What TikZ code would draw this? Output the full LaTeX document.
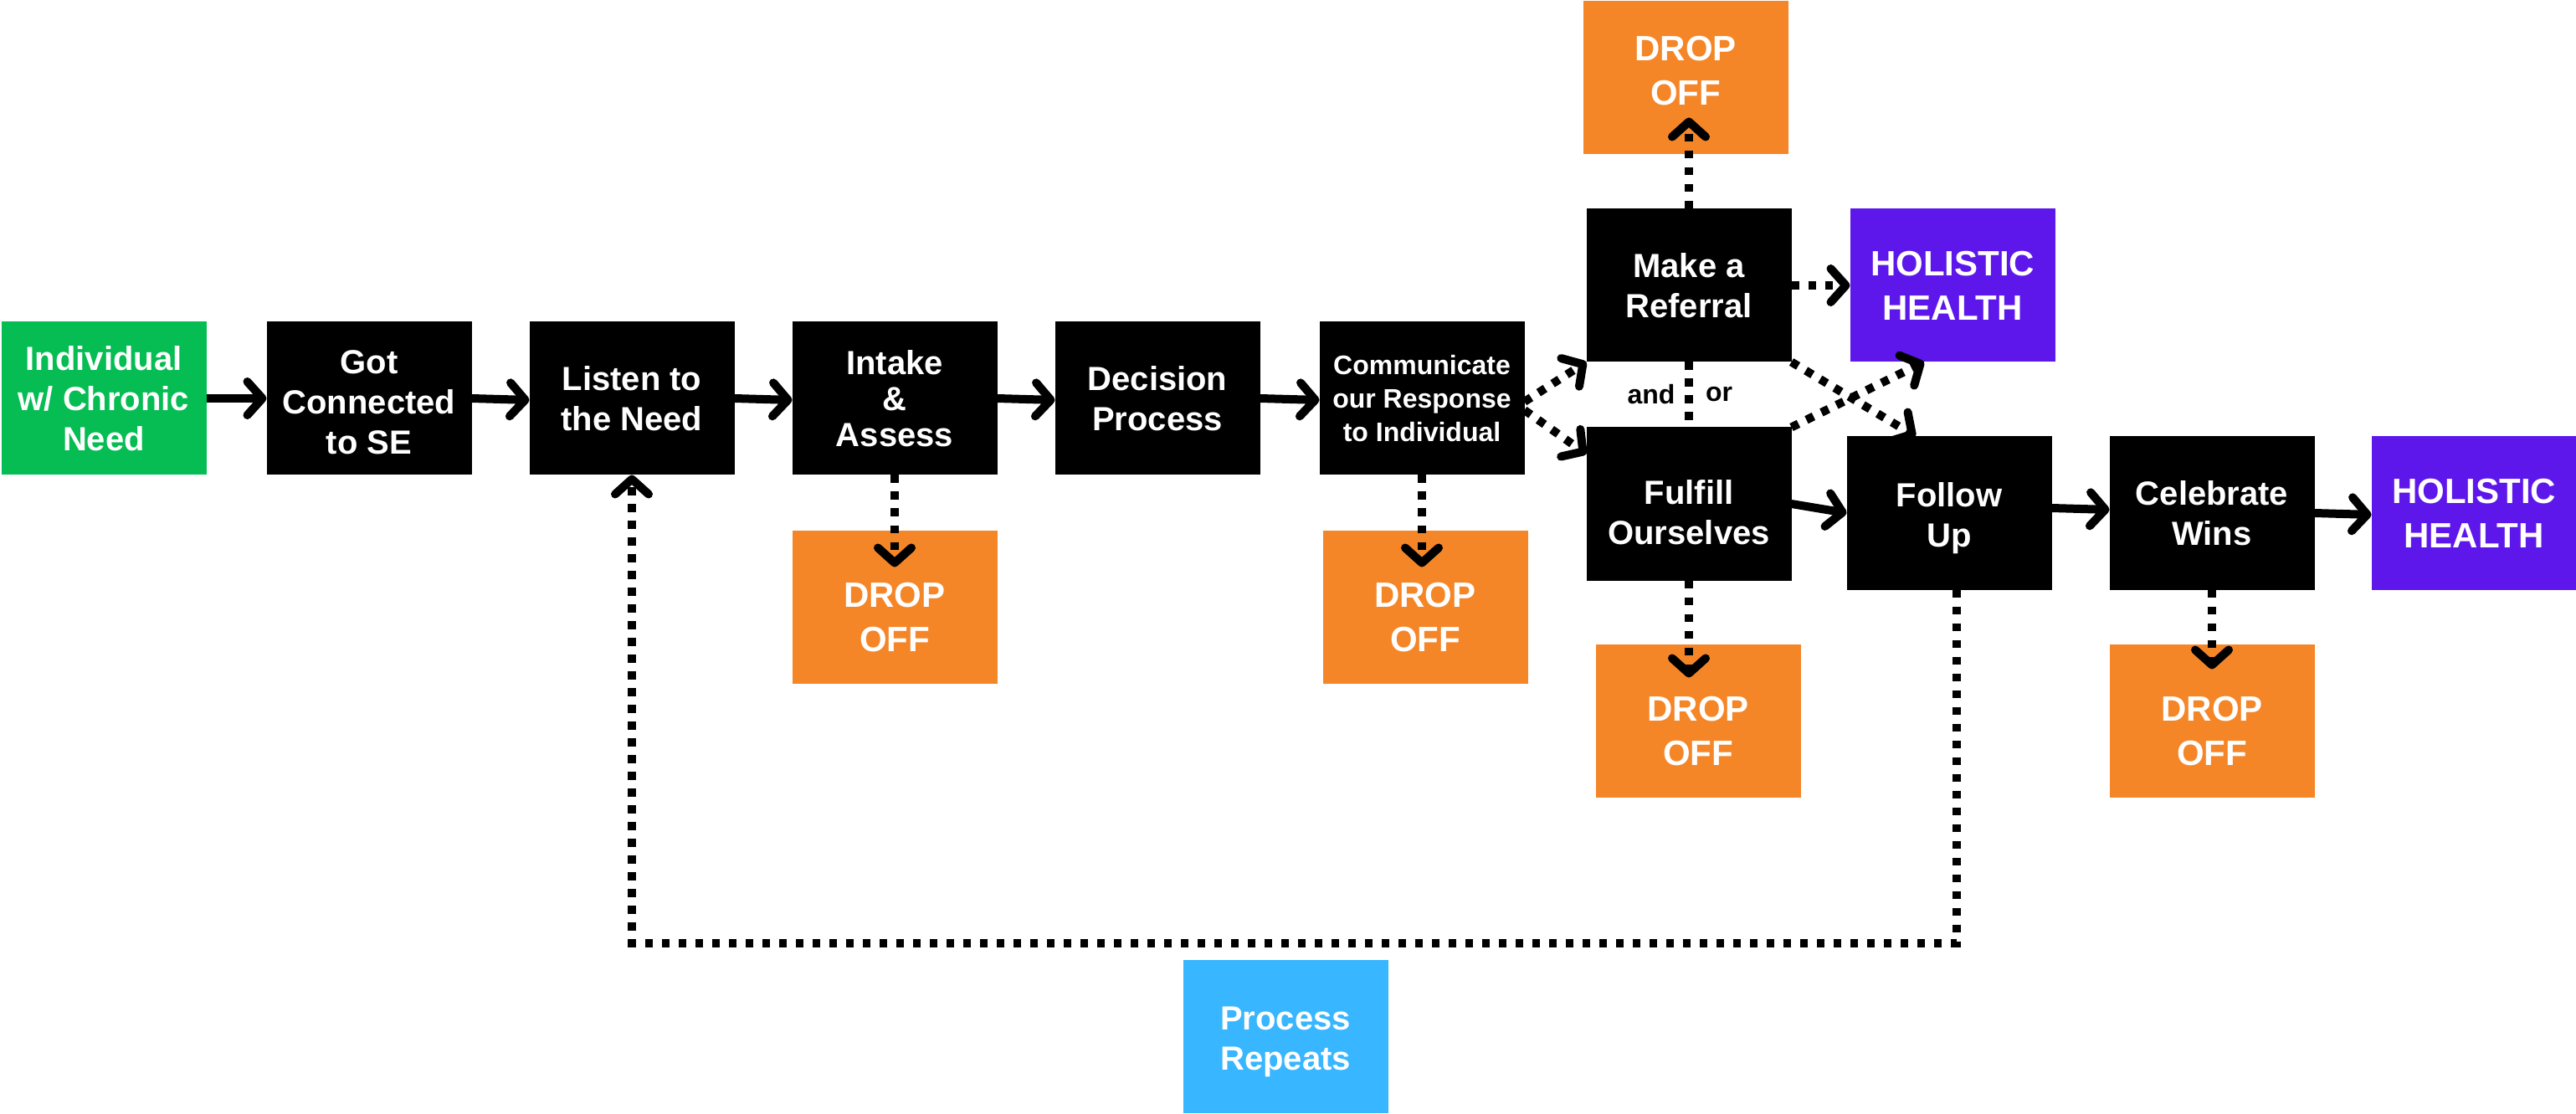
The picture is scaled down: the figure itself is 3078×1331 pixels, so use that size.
\documentclass[tikz,border=0pt]{standalone}
\usepackage{fontspec}
\setmainfont{Liberation Sans}
\usetikzlibrary{arrows.meta}

\definecolor{needgreen}{HTML}{05BD53}
\definecolor{droporange}{HTML}{F58628}
\definecolor{healthpurple}{HTML}{5E17EB}
\definecolor{repeatblue}{HTML}{38B6FF}

\begin{document}
\begin{tikzpicture}[x=0.5pt, y=-0.5pt,
	stepbox/.style={fill=black, text=white, font=\bfseries\fontsize{20}{24}\selectfont,
		align=center, minimum width=122.5pt, minimum height=91.5pt, inner sep=0pt, outer sep=0pt},
	dropbox/.style={stepbox, fill=droporange, font=\bfseries\fontsize{21}{26.5}\selectfont},
	healthbox/.style={stepbox, fill=healthpurple, font=\bfseries\fontsize{21}{26.5}\selectfont},
	smalltext/.style={font=\bfseries\fontsize{16}{20}\selectfont},
	textdown/.style={execute at begin node={\rule{0pt}{#1}}},
	textup/.style={execute at end node={\rule[-#1]{0pt}{0pt}}},
	solidflow/.style={line width=5pt, -{Straight Barb[length=9pt, width=20pt, line cap=round, line join=round]}},
	dotline/.style={line width=5pt, dash pattern=on 4.7pt off 5.3pt},
	dotflow/.style={dotline, -{Straight Barb[length=9pt, width=20pt, line cap=round, line join=round]}}]
	\useasboundingbox (0,0) rectangle (3078,1331);

	\node [stepbox, fill=needgreen] (need) at (124,476) {Individual\\w/ Chronic\\Need};
	\node [stepbox, textdown=66.5pt] (got) at (441,476) {Got\\Connected\\to SE};
	\node [stepbox] (listen) at (755,476) {Listen to\\the Need};
	\node [stepbox, font=\bfseries\fontsize{20}{21.5}\selectfont] (intake) at (1069,476) {Intake\\\&\\Assess};
	\node [stepbox] (decide) at (1383,476) {Decision\\Process};
	\node [stepbox, smalltext] (talk) at (1699,476) {Communicate\\our Response\\to Individual};
	\node [stepbox] (refer) at (2018,341) {Make a\\Referral};
	\node [stepbox, textdown=48.5pt] (fulfill) at (2018,602) {Fulfill\\Ourselves};
	\node [stepbox, textdown=44.5pt] (follow) at (2329,613) {Follow\\Up};
	\node [stepbox] (celebrate) at (2643,613) {Celebrate\\Wins};
	\node [healthbox] (healthA) at (2333,341) {HOLISTIC\\HEALTH};
	\node [healthbox] (healthB) at (2956,613) {HOLISTIC\\HEALTH};

	\node [dropbox, textup=9pt] (dropR) at (2014,93) {DROP\\OFF};
	\node [dropbox, textdown=54pt] (dropI) at (1069,725) {DROP\\OFF};
	\node [dropbox, textdown=54pt] (dropT) at (1703,725) {DROP\\OFF};
	\node [dropbox, textdown=54pt] (dropF) at (2029,861) {DROP\\OFF};
	\node [dropbox, textdown=54pt] (dropC) at (2643,861) {DROP\\OFF};
	\node [stepbox, fill=repeatblue, textdown=44.5pt] (again) at (1536,1238) {Process\\Repeats};

	\node [smalltext] (andlbl) at (1973,471) {and};
	\node [smalltext] (orlbl) at (2054,471) {or};

	% main line
	\draw [solidflow] (need.east) -- (got.west);
	\draw [solidflow] (got.east) -- ([yshift=-1pt]listen.west);
	\draw [solidflow] (listen.east) -- ([yshift=-1pt]intake.west);
	\draw [solidflow] (intake.east) -- ([yshift=-1pt]decide.west);
	\draw [solidflow] (decide.east) -- ([yshift=-1pt]talk.west);
	\draw [solidflow] (fulfill.east) -- (follow.west);
	\draw [solidflow] ([yshift=3pt]follow.east) -- ([yshift=2pt]celebrate.west);
	\draw [solidflow] (celebrate.east) -- ([yshift=-1pt]healthB.west);

	% branches
	\draw [dotflow] ([yshift=-2pt]talk.east) -- (refer.south west);
	\draw [dotflow] ([yshift=-7pt]talk.east) -- ([yshift=-16pt]fulfill.north west);
	\draw [dotline] (refer.south) -- (fulfill.north);
	\draw [dotflow] (refer.east) -- (healthA.west);
	\draw [dotflow] (refer.south east) -- ([xshift=-20pt]follow.north);
	\draw [dotflow] (fulfill.north east) -- ([xshift=-17pt]healthA.south);

	% drop offs
	\draw [dotflow] (refer.north) -- ([yshift=22pt]refer.north |- dropR.south);
	\draw [dotflow] (intake.south) -- ([yshift=-22pt]intake.south |- dropI.north);
	\draw [dotflow] (talk.south) -- ([yshift=-22pt]talk.south |- dropT.north);
	\draw [dotflow] (fulfill.south) -- ([yshift=-20pt]fulfill.south |- dropF.north);
	\draw [dotflow] (celebrate.south) -- ([yshift=-15pt]celebrate.south |- dropC.north);

	% loop back
	\draw [dotflow] ([xshift=4.5pt]follow.south) -- ([xshift=4.5pt, yshift=10pt]follow.south |- again.north) -| (listen.south);

\end{tikzpicture}
\end{document}
